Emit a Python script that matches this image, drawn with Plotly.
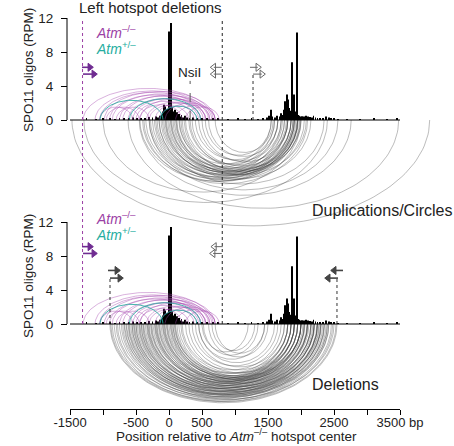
import numpy as np
import plotly.graph_objects as go

W, H = 454, 446

# ---------------- data ----------------
# SPO11-oligo map (position in bp relative to hotspot centre, RPM)
spo11_pos = [-1250, -1100, -1000, -900, -820, -750, -680, -600, -540, -480, -420, -360,
             -300, -250, -200, -170, -140, -120, -100, -90, -75, -65, -55, -45, -35, -25,
             -15, 5, 25, 40, 55, 70, 85, 100, 115, 130, 150, 170, 190, 215, 245, 275, 310,
             360, 420, 500, 580, 660, 740, 900, 1050, 1150, 1250, 1350, 1420, 1480, 1520,
             1540, 1560, 1600, 1640, 1680, 1700, 1720, 1740, 1758, 1770, 1783, 1798, 1813,
             1825, 1840, 1852, 1864, 1878, 1894, 1910, 1925, 1937, 1950, 1970, 1990, 2010,
             2040, 2070, 2100, 2130, 2160, 2190, 2220, 2250, 2290, 2330, 2380, 2420, 2460,
             2500, 2560, 2700, 2900, 3100, 3300, 3450]
spo11_rpm = [0.15, 0.1, 0.2, 0.15, 0.1, 0.25, 0.15, 0.2, 0.3, 0.15, 0.25, 0.2,
             0.35, 0.3, 0.4, 0.3, 0.5, 0.4, 0.6, 1.0, 1.8, 1.6, 1.2, 0.9, 1.3, 0.8,
             1.1, 10.4, 11.4, 1.5, 1.0, 0.8, 1.2, 0.6, 0.9, 0.5, 0.7, 0.4, 0.6, 0.3, 0.5, 0.3, 0.2,
             0.3, 0.2, 0.25, 0.15, 0.2, 0.15, 0.1, 0.15, 0.1, 0.2, 0.1, 0.15, 0.3, 0.5,
             1.2, 0.4, 0.3, 0.5, 0.4, 0.8, 0.6, 1.2, 2.2, 1.5, 3.0, 2.4, 1.4,
             1.0, 0.8, 1.1, 6.8, 0.9, 3.0, 0.7, 1.0, 10.3, 0.6, 0.5, 0.4, 0.45,
             0.4, 0.5, 0.4, 0.35, 0.3, 0.5, 0.3, 0.25, 0.2, 0.25, 0.4, 0.3, 0.2,
             0.15, 0.1, 0.1, 0.1, 0.15, 0.1, 0.15]

# Left hotspot deletions (drawn above the axis in both panels)
atm_null_start = [-1300, -1120, -1050, -980, -900, -860, -750, -700, -620, -550, -500, -440,
                  -340, -300, -210, -150, -60, -450, -1050, -950, -800, 100, 250]
atm_null_end = [670, 620, 550, 700, 480, 600, 520, 650, 450, 560, 380, 620,
                480, 300, 560, 420, 700, 200, -550, -450, -300, 700, 760]
atm_het_start = [-1045, -136, -600]
atm_het_end = [-90, 424, 480]

# Duplications / circles (top panel, below the axis)
dup_start = [-1470, -1290, -620, -450, -300, -150, -1000,
             -440, -400, -350, -300, -280, -250, -200, -180, -150, -120, -100, -80, -60, -40,
             -20, 0, 20, 40, 60, 80, 100, 120, 150, 180, 200, 250, 300, 350, 400, 450, 500,
             550, 600, 700, -380, -220, -50, 30, 110, 160, 230, 320]
dup_end = [3950, 2400, 3480, 2760, 2560, 2350, 2000,
           1900, 1950, 1850, 1980, 1800, 1900, 1950, 1750, 1850, 1920, 1700, 1880, 1950, 1800,
           1650, 1900, 1780, 1850, 1600, 1950, 1720, 1880, 1550, 1800, 1900, 1650, 1750, 1850,
           1600, 1700, 1800, 1550, 1650, 1580, 2100, 2050, 2150, 1990, 2080, 1960, 2000, 1940]

# Deletions (bottom panel, below the axis)
del_start = [-894, -880, -860, -830, -800, -780, -750, -720, -700, -680,
             -650, -620, -600, -580, -560, -540, -520, -500, -480, -460, -440, -420, -400,
             -380, -360, -340, -320, -300, -280, -260, -240, -220, -200, -180, -160, -140,
             -120, -100, -80, -60, -40, -20, 0, 20, 40, 60, 80, 100, 120, 150, 180, 200, 250,
             300, 350, 400, 450, 450, 520, 600, 650, 700, 500,
             -670, -610, -560, -500, -450, -390, -330, -270, -210, -150, -90, -30, 30, 90,
             -640, -530, -420, -310, -190, -70, 60]
del_end = [2545, 2480, 2420, 2530, 2350, 2460, 2300, 2400, 2500, 2250,
           2200, 2350, 2100, 2250, 2400, 2150, 2000, 2300, 2050, 2200, 1950, 2100, 2250,
           1900, 2000, 2150, 1850, 2050, 1950, 2200, 1900, 2000, 1850, 2100, 1950, 1800,
           2000, 1900, 1850, 2050, 1950, 1800, 1900, 2000, 1850, 1950, 1750, 1900, 1800, 2000,
           1850, 1700, 1900, 1800, 1650, 1750, 1600, 1450, 1350, 1500, 1300, 1450, 1200,
           2380, 2300, 2330, 2250, 2280, 2200, 2240, 2180, 2150, 2120, 2100, 2060, 2030, 2000,
           2420, 2360, 2310, 2270, 2210, 2160, 2090]

# Primers: (tail bp, head bp, RPM height)
top_purple_primers = [(-1318, -1151, 6.2), (-1303, -1091, 5.4)]
top_open_left = [(800, 630, 6.2), (800, 630, 5.4)]
top_open_right = [(1227, 1394, 6.2), (1273, 1455, 5.4)]
bot_purple_primers = [(-1318, -1151, 9.1), (-1303, -1091, 8.3)]
bot_open_left = [(815, 640, 9.1), (800, 620, 8.3)]
bot_solid_right = [(-924, -742, 6.3), (-894, -697, 5.4)]
bot_solid_left = [(2636, 2455, 6.3), (2561, 2364, 5.4)]
top_primer_drops = [(1273, 5.4)]
bot_primer_drops = [(-894, 5.4), (2545, 5.4)]
nsi_site = 320
assay_lines = [(-1310, "#9b3fa5"), (807, "#222222")]

x_major = [-1500, -500, 0, 500, 1500, 2500, 3500]
x_major_labels = ["-1500", "-500", "0", "500", "1500", "2500", "3500 bp"]
x_minor = [-1000, 1000, 2000, 3000]
y_ticks = [0, 4, 8, 12]

# ---------------- geometry helpers ----------------
PX_PER_BP = 0.066
X0_PX = 169.0          # pixel of 0 bp
PX_PER_RPM = 8.5
TOP_BASE = 120.0       # pixel row of 0 RPM (top panel)
BOT_BASE = 324.0       # pixel row of 0 RPM (bottom panel)


def px2bp(p):
    return (p - X0_PX) / PX_PER_BP


def px_x(p):
    return p / W


def px_y(p):
    return 1 - p / H


def arc(a, b, sign, coef, n=90):
    c = (a + b) / 2.0
    hw = (b - a) / 2.0
    d = coef * hw ** 0.65
    t = np.linspace(0, np.pi, n)
    return c + hw * np.cos(t), sign * d * np.sin(t)


COEF_UP = 0.0421
COEF_DOWN = 0.0731

fig = go.Figure()

panels = [("y", dup_start, dup_end), ("y2", del_start, del_end)]
for yax, s_list, e_list in panels:
    for a, b in zip(s_list, e_list):
        xs, ys = arc(a, b, -1, COEF_DOWN)
        fig.add_trace(go.Scatter(x=xs, y=ys, mode="lines", yaxis=yax, xaxis="x",
                                 line=dict(color="rgba(60,60,60,0.34)", width=1),
                                 hoverinfo="skip", showlegend=False))
    for a, b in zip(atm_null_start, atm_null_end):
        xs, ys = arc(a, b, 1, COEF_UP)
        fig.add_trace(go.Scatter(x=xs, y=ys, mode="lines", yaxis=yax, xaxis="x",
                                 line=dict(color="rgba(165,70,175,0.42)", width=1),
                                 hoverinfo="skip", showlegend=False))
    for a, b in zip(atm_het_start, atm_het_end):
        xs, ys = arc(a, b, 1, COEF_UP)
        fig.add_trace(go.Scatter(x=xs, y=ys, mode="lines", yaxis=yax, xaxis="x",
                                 line=dict(color="rgba(40,170,160,0.85)", width=1),
                                 hoverinfo="skip", showlegend=False))
    # SPO11 oligo bars
    fig.add_trace(go.Bar(x=spo11_pos, y=spo11_rpm, width=14, yaxis=yax, xaxis="x",
                         marker=dict(color="black", line=dict(width=0)),
                         hoverinfo="skip", showlegend=False))
    # baseline drawn on the display axis
    fig.add_trace(go.Scatter(x=[x_major[0], x_major[-1]], y=[0, 0], mode="lines",
                             xaxis="x2", yaxis=yax, line=dict(color="black", width=1.2),
                             hoverinfo="skip", showlegend=False))

ARW = 3.2 / PX_PER_BP  # half arrow-head length in bp


def add_arrows(lst, yax, color, symbol_r, symbol_l, width=1.6):
    for tail, head, yv in lst:
        right = head > tail
        hc = head - ARW if right else head + ARW
        fig.add_trace(go.Scatter(x=[tail, hc], y=[yv, yv], mode="lines", xaxis="x", yaxis=yax,
                                 line=dict(color=color, width=width),
                                 hoverinfo="skip", showlegend=False))
        fig.add_trace(go.Scatter(x=[hc], y=[yv], mode="markers", xaxis="x", yaxis=yax,
                                 marker=dict(symbol=symbol_r if right else symbol_l, size=7,
                                             color=color, line=dict(color=color, width=1)),
                                 hoverinfo="skip", showlegend=False))


add_arrows(top_purple_primers, "y", "#6f2c91", "triangle-right", "triangle-left")
add_arrows(bot_purple_primers, "y2", "#6f2c91", "triangle-right", "triangle-left")
add_arrows(top_open_left, "y", "#666666", "triangle-right-open", "triangle-left-open", 1.0)
add_arrows(top_open_right, "y", "#666666", "triangle-right-open", "triangle-left-open", 1.0)
add_arrows(bot_open_left, "y2", "#666666", "triangle-right-open", "triangle-left-open", 1.0)
add_arrows(bot_solid_right, "y2", "#444444", "triangle-right", "triangle-left")
add_arrows(bot_solid_left, "y2", "#444444", "triangle-right", "triangle-left")

for yax, drops in (("y", top_primer_drops), ("y2", bot_primer_drops)):
    for xv, yv in drops:
        fig.add_trace(go.Scatter(x=[xv, xv], y=[0, yv], mode="lines", xaxis="x", yaxis=yax,
                                 line=dict(color="#333333", width=1, dash="dot"),
                                 hoverinfo="skip", showlegend=False))

# NsiI site
fig.add_trace(go.Scatter(x=[nsi_site, nsi_site], y=[0, 4.6], mode="lines", xaxis="x", yaxis="y",
                         line=dict(color="#555555", width=1, dash="dash"),
                         hoverinfo="skip", showlegend=False))

shapes = []
for xv, col in assay_lines:
    shapes.append(dict(type="line", xref="x", yref="paper", x0=xv, x1=xv,
                       y0=px_y(BOT_BASE), y1=px_y(18), line=dict(color=col, width=1, dash="dot")))
for yr in ("y", "y2"):
    shapes.append(dict(type="line", xref="paper", yref=yr, x0=px_x(67), x1=px_x(67),
                       y0=0, y1=12, line=dict(color="black", width=1)))

FONT = "Liberation Sans, Arial, sans-serif"
ann = []


def text(s, xp, yp, size, color="#222222", xanchor="center", yanchor="middle", angle=0):
    ann.append(dict(text=s, x=px_x(xp), y=px_y(yp), xref="paper", yref="paper",
                    showarrow=False, xanchor=xanchor, yanchor=yanchor, textangle=angle,
                    font=dict(family=FONT, size=size, color=color)))


text("<b>G</b>", 1, 2, 17, "#111", xanchor="left", yanchor="bottom")
text("Left hotspot deletions", 150, 7, 15)
text("<i>Atm</i><sup>–/–</sup>", 94, 32, 14, "#9b3fa5", xanchor="left")
text("<i>Atm</i><sup>+/–</sup>", 94, 48, 14, "#26ada0", xanchor="left")
text("<i>Atm</i><sup>–/–</sup>", 94, 218, 14, "#9b3fa5", xanchor="left")
text("<i>Atm</i><sup>+/–</sup>", 94, 234, 14, "#26ada0", xanchor="left")
text("NsiI", 189, 72, 13.5)
text("Duplications/Circles", 310, 211, 16, xanchor="left")
text("Deletions", 310, 384, 16, xanchor="left")
text("SPO11 oligos (RPM)", 28, 70, 13.5, angle=-90)
text("SPO11 oligos (RPM)", 28, 276, 13.5, angle=-90)
text("Position relative to <i>Atm</i><sup>–/–</sup> hotspot center", 236, 446, 13.5,
     yanchor="bottom")

x_rng = [px2bp(0), px2bp(W)]
top_rng = [(TOP_BASE - 232) / PX_PER_RPM, TOP_BASE / PX_PER_RPM]
bot_rng = [(BOT_BASE - H) / PX_PER_RPM, (BOT_BASE - 200) / PX_PER_RPM]

yax_common = dict(showline=False, showgrid=False, zeroline=False, tickmode="array",
                  tickvals=y_ticks, ticks="outside", ticklen=6, tickcolor="black",
                  tickwidth=1, anchor="free", position=px_x(67), ticklabelstandoff=5,
                  automargin=False,
                  tickfont=dict(family=FONT, size=13.5, color="#222"))

fig.update_layout(
    width=W, height=H, margin=dict(l=0, r=0, t=0, b=0, pad=0), autosize=False,
    paper_bgcolor="white", plot_bgcolor="rgba(0,0,0,0)", showlegend=False,
    barmode="overlay",
    xaxis=dict(range=x_rng, domain=[0, 1], visible=False, fixedrange=True, automargin=False),
    xaxis2=dict(range=[x_major[0], x_major[-1]], domain=[px_x(70), px_x(400)],
                anchor="free", position=px_y(409), showline=True, linecolor="black",
                linewidth=1, ticks="outside", ticklen=5, tickcolor="black",
                tickmode="array", tickvals=x_major, ticktext=x_major_labels,
                ticklabelstandoff=-4, automargin=False,
                minor=dict(tickmode="array", tickvals=x_minor, ticks="outside", ticklen=5,
                           tickcolor="black", showgrid=False),
                showgrid=False, zeroline=False,
                tickfont=dict(family=FONT, size=13, color="#222")),
    yaxis=dict(domain=[px_y(232), 1], range=top_rng, **yax_common),
    yaxis2=dict(domain=[0, px_y(200)], range=bot_rng, **yax_common),
    shapes=shapes, annotations=ann,
)

fig.write_html("out.html")
